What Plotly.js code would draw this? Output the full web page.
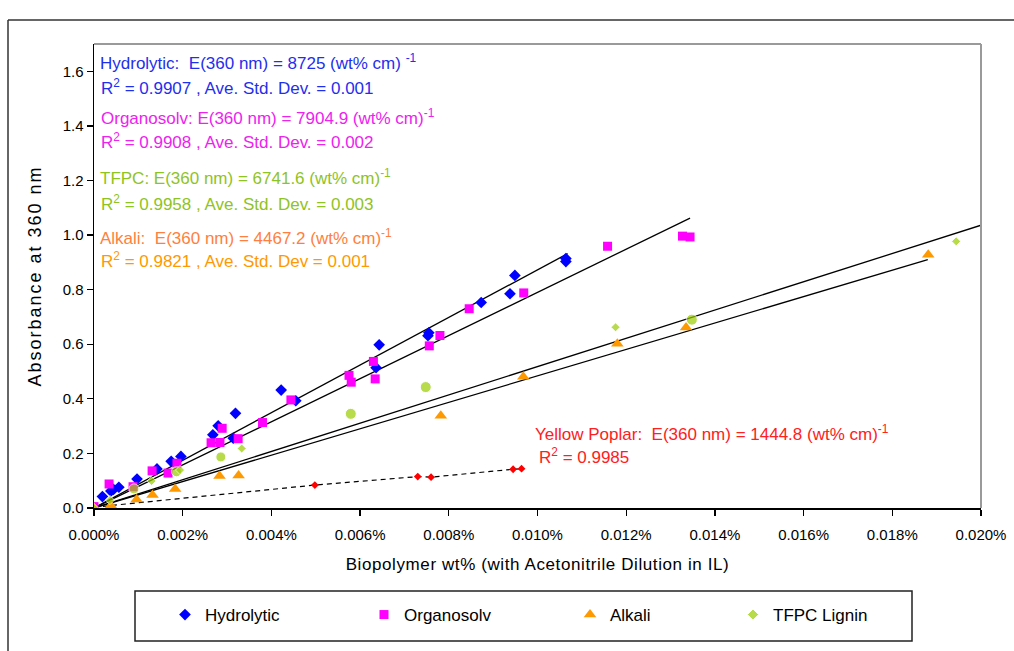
<!DOCTYPE html>
<html>
<head>
<meta charset="utf-8">
<script src="https://cdn.plot.ly/plotly-3.0.1.min.js"></script>
<style>
html,body{margin:0;padding:0;background:#fff;}
#chart{width:1014px;height:651px;}
#chart .ytitle{letter-spacing:2px;}
#chart .xtitle{letter-spacing:0.6px;}
</style>
</head>
<body>
<div id="chart"></div>
<script>
// x values in wt% (percent units), y = absorbance at 360 nm
const hydroX = [0.00019,0.00038,0.00044,0.00056,0.00097,0.00142,0.00174,0.00196,0.00268,0.00280,0.00319,0.00314,0.00422,0.00455,0.00643,0.00636,0.00755,0.00753,0.00873,0.00949,0.00938,0.01064,0.01064];
const hydroY = [0.042,0.062,0.068,0.076,0.106,0.143,0.171,0.189,0.268,0.301,0.347,0.256,0.432,0.393,0.598,0.514,0.642,0.631,0.753,0.852,0.785,0.914,0.903];

const organoX = [0,0.00034,0.00088,0.00131,0.00167,0.00187,0.00264,0.00284,0.00289,0.00325,0.00380,0.00444,0.00575,0.00580,0.00630,0.00634,0.00756,0.00780,0.00846,0.00969,0.01158,0.01327,0.01344];
const organoY = [0.005,0.088,0.078,0.136,0.128,0.164,0.239,0.240,0.292,0.254,0.313,0.396,0.486,0.461,0.537,0.473,0.594,0.632,0.730,0.788,0.959,0.996,0.993];

const alkaliX = [0,0.00038,0.00096,0.00132,0.00183,0.00283,0.00326,0.00782,0.00968,0.01180,0.01335,0.01881];
const alkaliY = [0,0.009,0.031,0.048,0.070,0.117,0.119,0.338,0.481,0.602,0.661,0.928];

const tfpcX = [0,0.00036,0.00090,0.00130,0.00186,0.00194,0.00286,0.00333,0.00579,0.00748,0.01176,0.01348,0.01944];
const tfpcY = [0,0.029,0.070,0.099,0.133,0.139,0.187,0.218,0.345,0.443,0.662,0.690,0.977];
const tfpcSymbols = ['diamond','diamond','circle','diamond','circle','diamond','circle','diamond','circle','circle','diamond','circle','diamond'];
const tfpcSizes = [7,7,10,7,10,7,10,7,11,11,7,11,7];

const poplarX = [0,0.00498,0.00730,0.00760,0.00945,0.00964];
const poplarY = [0.003,0.084,0.115,0.113,0.142,0.144];

// fitted trend lines (end points)
const fitHydroX = [0,0.01068],  fitHydroY = [0,0.932];
const fitOrganoX = [0,0.01344], fitOrganoY = [0,1.062];
const fitTfpcX = [0,0.0200],    fitTfpcY = [0,1.036];
const fitAlkaliX = [0,0.0188],  fitAlkaliY = [0,0.910];

const seriesNames = ['Hydrolytic','Organosolv','Alkali','TFPC Lignin'];

const FONT = 'Liberation Sans, Arial, sans-serif';
const fitLine = {color:'#000', width:1.3};

const traces = [
  {x:fitHydroX, y:fitHydroY, mode:'lines', line:fitLine, showlegend:false, hoverinfo:'skip'},
  {x:fitOrganoX, y:fitOrganoY, mode:'lines', line:fitLine, showlegend:false, hoverinfo:'skip'},
  {x:fitTfpcX, y:fitTfpcY, mode:'lines', line:fitLine, showlegend:false, hoverinfo:'skip'},
  {x:fitAlkaliX, y:fitAlkaliY, mode:'lines', line:fitLine, showlegend:false, hoverinfo:'skip'},
  {x:poplarX, y:poplarY, mode:'lines+markers', name:'Yellow Poplar', showlegend:false,
   line:{color:'#000', width:1.2, dash:'5px,4px'},
   marker:{color:'#ff0000', symbol:'diamond', size:6}},
  {x:hydroX, y:hydroY, mode:'markers', name:seriesNames[0], legend:'legend',
   marker:{color:'#0000ff', symbol:'diamond', size:9}},
  {x:organoX, y:organoY, mode:'markers', name:seriesNames[1], legend:'legend2',
   marker:{color:'#ff00ff', symbol:'square', size:9}},
  {x:alkaliX, y:alkaliY, mode:'markers', name:seriesNames[2], legend:'legend3',
   marker:{color:'#ff9900', symbol:'triangle-up', size:11}},
  {x:tfpcX, y:tfpcY, mode:'markers', name:seriesNames[3], legend:'legend4',
   marker:{color:'#99cc00', symbol:tfpcSymbols, size:tfpcSizes}}
];

function px2x(px){ return (px-94)/887; }
function px2y(py){ return (508-py)/464; }

function note(text, px, py, color){
  return {text:text, x:px2x(px), y:px2y(py), xref:'paper', yref:'paper',
          xanchor:'left', yanchor:'middle', showarrow:false, align:'left',
          font:{family:FONT, size:17, color:color}};
}

const annotations = [
  note('Hydrolytic:  E(360 nm) = 8725 (wt% cm) <sup>-1</sup>', 98, 62, '#1f2fee'),
  note('R<sup>2</sup> = 0.9907 , Ave. Std. Dev. = 0.001', 99, 87, '#1f2fee'),
  note('Organosolv: E(360 nm) = 7904.9 (wt% cm)<sup>-1</sup>', 99, 117, '#ee22ee'),
  note('R<sup>2</sup> = 0.9908 , Ave. Std. Dev. = 0.002', 99, 141, '#ee22ee'),
  note('TFPC: E(360 nm) = 6741.6 (wt% cm)<sup>-1</sup>', 98, 177, '#8fc31f'),
  note('R<sup>2</sup> = 0.9958 , Ave. Std. Dev. = 0.003', 99, 203, '#8fc31f'),
  note('Alkali:  E(360 nm) = 4467.2 (wt% cm)<sup>-1</sup>', 98, 237, '#ff7f40'),
  note('R<sup>2</sup> = 0.9821 , Ave. Std. Dev = 0.001', 99, 260, '#ff9900'),
  note('Yellow Poplar:  E(360 nm) = 1444.8 (wt% cm)<sup>-1</sup>', 533, 433, '#ff2020'),
  note('R<sup>2</sup> = 0.9985', 537, 456, '#ff2020')
];

const shapes = [
  // outer chart frame
  {type:'line', xref:'paper', yref:'paper', x0:px2x(8), x1:px2x(1030), y0:px2y(20), y1:px2y(20), line:{color:'#333', width:1.5}},
  {type:'line', xref:'paper', yref:'paper', x0:px2x(8), x1:px2x(8), y0:px2y(20), y1:px2y(670), line:{color:'#333', width:1.5}},
  // plot area border (top, right)
  {type:'line', xref:'paper', yref:'paper', x0:0, x1:1, y0:1, y1:1, line:{color:'#9a9a9a', width:2}},
  {type:'line', xref:'paper', yref:'paper', x0:1, x1:1, y0:0, y1:1, line:{color:'#9a9a9a', width:2}},
  // legend box
  {type:'rect', xref:'paper', yref:'paper', x0:px2x(135), x1:px2x(912), y0:px2y(641), y1:px2y(591), line:{color:'#222', width:1.5}, fillcolor:'rgba(0,0,0,0)'}
];

function legendAt(px){
  return {orientation:'h', x:px2x(px), y:px2y(615), xanchor:'left', yanchor:'middle',
          bgcolor:'rgba(0,0,0,0)', borderwidth:0, itemsizing:'trace',
          font:{family:FONT, size:17, color:'#000'}};
}

const layout = {
  width:1014, height:651,
  margin:{l:94, r:33, t:44, b:143, autoexpand:false},
  paper_bgcolor:'#fff', plot_bgcolor:'#fff',
  font:{family:FONT, size:15, color:'#000'},
  xaxis:{range:[0,0.02], dtick:0.002, tick0:0, tickformat:'.3f', ticksuffix:'%',
         showgrid:false, zeroline:false, showline:true, linecolor:'#000', linewidth:1.5,
         ticks:'outside', ticklen:6, tickcolor:'#000', tickwidth:1.3, ticklabelstandoff:6,
         tickfont:{family:FONT, size:15, color:'#000'}, automargin:false,
         title:{text:'Biopolymer wt% (with Acetonitrile Dilution in IL)', font:{family:FONT, size:17, color:'#000'}, standoff:16}},
  yaxis:{range:[0,1.7], dtick:0.2, tick0:0, tickformat:'.1f',
         showgrid:false, zeroline:false, showline:true, linecolor:'#000', linewidth:1.5,
         ticks:'outside', ticklen:6, tickcolor:'#000', tickwidth:1.3, automargin:false,
         tickfont:{family:FONT, size:15, color:'#000'},
         title:{text:'Absorbance at 360 nm', font:{family:FONT, size:18, color:'#000'}, standoff:16}},
  showlegend:true,
  legend:legendAt(165),
  legend2:legendAt(364),
  legend3:legendAt(570),
  legend4:legendAt(733),
  annotations:annotations,
  shapes:shapes
};

Plotly.newPlot('chart', traces, layout, {displayModeBar:false, staticPlot:true});
</script>
</body>
</html>
